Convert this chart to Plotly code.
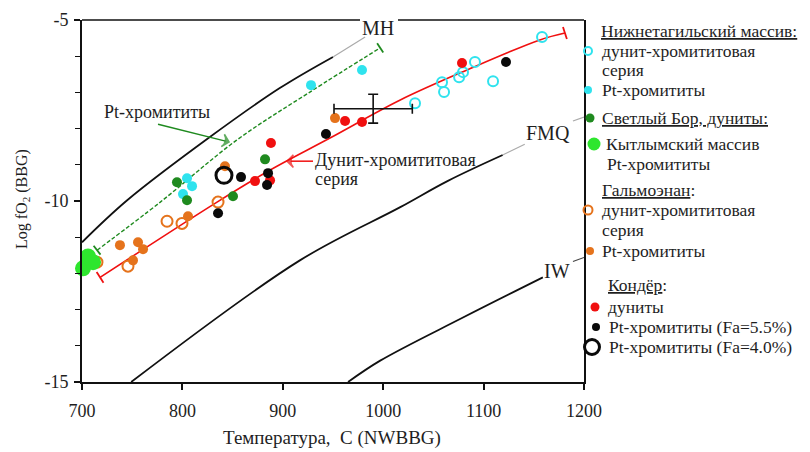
import plotly.graph_objects as go

W, H = 810, 452
FONT = "Liberation Serif"
TXT = "#1e1e1e"

# ---- buffer curves: temperature (C) vs log fO2 ----
mh_t = [700, 745, 827, 897, 950]
mh_f = [-11.14, -9.98, -8.24, -6.88, -6.02]
mh_ext_t = [950, 982]
mh_ext_f = [-6.02, -5.47]

fmq_t = [749, 917, 1017, 1064, 1119]
fmq_f = [-15.0, -11.64, -10.17, -9.45, -8.73]
fmq_ext_t = [1119, 1141]
fmq_ext_f = [-8.73, -8.43]
fmq_tail_t = [1189, 1200]
fmq_tail_f = [-7.79, -7.68]

iw_t = [965, 997, 1078, 1159]
iw_f = [-15.0, -14.41, -13.24, -12.11]
iw_tail_t = [1189, 1200]
iw_tail_f = [-11.67, -11.56]

# ---- trend lines ----
dun_t = [718, 834.5, 887, 947, 1017, 1083.5, 1156, 1181]
dun_f = [-12.11, -10.03, -9.15, -8.26, -7.21, -6.38, -5.55, -5.36]
ptc_t = [715, 778, 854, 927, 997]
ptc_f = [-11.36, -10.03, -8.32, -6.99, -5.77]

# ---- samples ----
ntag_dun_t = [1031.7, 1058.6, 1060.6, 1075.6, 1079.5, 1091.4, 1109.4, 1158.2]
ntag_dun_f = [-7.30, -6.72, -6.99, -6.58, -6.44, -6.16, -6.69, -5.47]
ntag_pt_t = [804.6, 809.6, 800.6, 928.1, 978.9]
ntag_pt_f = [-9.37, -9.59, -9.81, -6.80, -6.38]
svbor_t = [794.6, 804.6, 850.4, 882.3]
svbor_f = [-9.48, -9.98, -9.87, -8.85]
kytlym_t = [701, 706, 711]
kytlym_f = [-11.86, -11.53, -11.69]
galm_dun_t = [714.9, 745.8, 784.7, 799.6, 835.5]
galm_dun_f = [-11.69, -11.80, -10.56, -10.62, -10.03]
galm_pt_t = [737.8, 755.8, 760.8, 750.8, 805.6, 842.4, 952.0]
galm_pt_f = [-11.22, -11.14, -11.33, -11.64, -10.42, -9.04, -7.71]
kond_dun_t = [872.3, 887.3, 888.2, 962.0, 978.9, 1078.5]
kond_dun_f = [-9.45, -9.43, -8.40, -7.79, -7.82, -6.19]
kond_fa55_t = [858.4, 835.5, 885.3, 884.3, 943.0, 1122.3]
kond_fa55_f = [-9.34, -10.34, -9.23, -9.56, -8.15, -6.16]
kond_fa40_t = [841.4]
kond_fa40_f = [-9.29]

# mean with uncertainty
err_t, err_f = [990], [-7.45]
err_dt, err_df = [39], [0.4]

CYAN = "#2fe3ee"
DKGREEN = "#1f8a1f"
LTGREEN = "#2ee62e"
ORANGE = "#e5731c"
RED = "#f01010"

fig = go.Figure()


def line(x, y, color, width=1.6, dash=None, shape="spline"):
    fig.add_trace(go.Scatter(x=x, y=y, mode="lines", line=dict(color=color, width=width, dash=dash, shape=shape),
                             hoverinfo="skip", showlegend=False))


line(mh_t, mh_f, "#111111", 1.8)
line(mh_ext_t, mh_ext_f, "#aaaaaa", 1.2, shape="linear")
line(fmq_t, fmq_f, "#111111", 1.8)
line(fmq_ext_t, fmq_ext_f, "#aaaaaa", 1.2, shape="linear")
line(fmq_tail_t, fmq_tail_f, "#aaaaaa", 1.2, shape="linear")
line(iw_t, iw_f, "#111111", 1.8)
line(iw_tail_t, iw_tail_f, "#444444", 1.2, shape="linear")
line(dun_t, dun_f, RED, 1.6)
line(ptc_t, ptc_f, DKGREEN, 1.4, dash="4px,2px")

# end caps of trend lines
fig.add_trace(go.Scatter(x=[dun_t[0], dun_t[-1]], y=[dun_f[0], dun_f[-1]], mode="markers",
                         marker=dict(symbol="line-ns", size=9, angle=[-33, -18], line=dict(color=RED, width=1.8)),
                         hoverinfo="skip", showlegend=False, cliponaxis=False))
fig.add_trace(go.Scatter(x=[ptc_t[0], ptc_t[-1]], y=[ptc_f[0], ptc_f[-1]], mode="markers",
                         marker=dict(symbol="line-ns", size=8, angle=[-38, -33], line=dict(color=DKGREEN, width=1.8)),
                         hoverinfo="skip", showlegend=False, cliponaxis=False))


def pts(x, y, color, size=10, open_=False, lw=2, clip=True):
    if open_:
        m = dict(symbol="circle-open", size=size, color=color, line=dict(color=color, width=lw))
    else:
        m = dict(symbol="circle", size=size, color=color, line=dict(width=0))
    fig.add_trace(go.Scatter(x=x, y=y, mode="markers", marker=m, showlegend=False, cliponaxis=clip))


pts(galm_pt_t, galm_pt_f, ORANGE, 10)
pts(galm_dun_t, galm_dun_f, ORANGE, 11, open_=True, lw=2)
pts(ntag_pt_t, ntag_pt_f, CYAN, 10)
pts(ntag_dun_t, ntag_dun_f, CYAN, 10, open_=True, lw=2)
pts(svbor_t, svbor_f, DKGREEN, 10)
pts(kond_dun_t, kond_dun_f, RED, 10)
pts(kond_fa55_t, kond_fa55_f, "#0a0a0a", 10)
pts(kond_fa40_t, kond_fa40_f, "#0a0a0a", 16, open_=True, lw=3)
pts(kytlym_t, kytlym_f, LTGREEN, 16, clip=False)

fig.add_trace(go.Scatter(x=err_t, y=err_f, mode="markers", marker=dict(size=1, opacity=0),
                         error_x=dict(type="data", array=err_dt, color="#111111", thickness=1.6, width=5),
                         error_y=dict(type="data", array=err_df, color="#111111", thickness=1.6, width=5),
                         showlegend=False, hoverinfo="skip"))

# labelling arrows: shaft, head and a cross-bar at the tail
arrows = [
    dict(t=[775.7, 846.4], f=[-7.88, -8.37], color=DKGREEN),
    dict(t=[930.1, 904.2], f=[-8.90, -8.90], color=RED),
]
for a in arrows:
    fig.add_trace(go.Scatter(x=a["t"], y=a["f"], mode="lines+markers",
                             line=dict(color=a["color"], width=1.5),
                             marker=dict(symbol=["line-ns", "arrow-wide"], size=[9, 9], angleref="previous",
                                         color=a["color"], line=dict(color=a["color"], width=1.6)),
                             showlegend=False, hoverinfo="skip"))


def label(text, x, y, size=18, xanchor="left", xref="x", yref="y"):
    fig.add_annotation(x=x, y=y, xref=xref, yref=yref, text=text, showarrow=False, xanchor=xanchor,
                       yanchor="middle", borderpad=0, font=dict(family=FONT, size=size, color=TXT))


label("MH", 994.8, -5.22, size=20, xanchor="center")
label("FMQ", 1164, -8.13, size=20, xanchor="center")
label("IW", 1173, -11.92, size=20, xanchor="center")
label("Pt-хромититы", 720.5, -7.55)
label("Дунит-хромититовая", 931, -8.87)
label("серия", 931, -9.40)

# ---- legend, laid out on a pixel-scaled overlay axis ----
leg_marks = [
    (588, 51, CYAN, 8, True, 2),
    (588, 90, CYAN, 8, False, 0),
    (590, 118, DKGREEN, 9, False, 0),
    (594, 144, LTGREEN, 13, False, 0),
    (588, 210, ORANGE, 9, True, 2),
    (590, 251, ORANGE, 8, False, 0),
    (595, 307, RED, 9, False, 0),
    (596, 327, "#0a0a0a", 8, False, 0),
    (592, 347, "#0a0a0a", 15, True, 3),
]
for x, y, c, s, o, lw in leg_marks:
    m = dict(symbol="circle-open" if o else "circle", size=s, color=c, line=dict(color=c, width=lw))
    fig.add_trace(go.Scatter(x=[x], y=[y], mode="markers", marker=m, xaxis="x2", yaxis="y2",
                             showlegend=False, hoverinfo="skip", cliponaxis=False))

leg_text = [
    ("<u>Нижнетагильский массив:</u>", 600, 31),
    ("дунит-хромититовая", 601, 51),
    ("серия", 601, 70),
    ("Pt-хромититы", 601, 90),
    ("<u>Светлый Бор, дуниты:</u>", 601, 118),
    ("Кытлымский массив", 605, 144),
    ("Pt-хромититы", 606, 164),
    ("<u>Гальмоэнан</u>:", 601, 190),
    ("дунит-хромититовая", 601, 210),
    ("серия", 601, 230),
    ("Pt-хромититы", 601, 251),
    ("<u>Кондёр</u>:", 607, 285),
    ("дуниты", 607, 307),
    ("Pt-хромититы (Fa=5.5%)", 608, 327),
    ("Pt-хромититы (Fa=4.0%)", 608, 347),
]
for t, x, y in leg_text:
    label(t, x, y, size=17.5, xref="x2", yref="y2")

# axis titles
label("Температура,  C (NWBBG)", 332, 438, size=19, xanchor="center", xref="x2", yref="y2")
fig.add_annotation(x=22, y=199, xref="x2", yref="y2", text="Log fO<sub>2</sub> (BBG)", showarrow=False,
                   textangle=-90, font=dict(family=FONT, size=16, color=TXT))

# top frame, interrupted by the MH label
fig.add_shape(type="line", x0=82, x1=360, y0=20, y1=20, xref="x2", yref="y2", line=dict(color="#111111", width=1.6))
fig.add_shape(type="line", x0=398, x1=584, y0=20, y1=20, xref="x2", yref="y2", line=dict(color="#111111", width=1.6))

fig.update_layout(
    template="none",
    width=W, height=H,
    margin=dict(l=0, r=0, t=0, b=0, pad=0, autoexpand=False),
    paper_bgcolor="white", plot_bgcolor="rgba(0,0,0,0)",
    showlegend=False,
    xaxis=dict(domain=[82 / W, 584 / W], range=[700, 1200], tickvals=[700, 800, 900, 1000, 1100, 1200],
               showline=True, linecolor="#111111", linewidth=1.6, ticks="outside", ticklen=6, tickwidth=1.5,
               tickcolor="#111111", showgrid=False, zeroline=False, mirror=False, ticklabelstandoff=6,
               automargin=False, tickfont=dict(family=FONT, size=18, color=TXT)),
    yaxis=dict(domain=[(H - 382) / H, (H - 20) / H], range=[-15, -5], tickvals=[-5, -10, -15],
               ticktext=["-5", "-10", "-15"], showline=True, linecolor="#111111", linewidth=1.6,
               ticks="outside", ticklen=6, tickwidth=2, tickcolor="#111111", showgrid=False, zeroline=False,
               mirror=True, ticklabelstandoff=2, automargin=False, tickfont=dict(family=FONT, size=18, color=TXT),
               minor=dict(dtick=1, ticks="outside", ticklen=5, tickwidth=1.3, tickcolor="#111111", showgrid=False)),
    xaxis2=dict(domain=[0, 1], range=[0, W], visible=False, anchor="y2", fixedrange=True, automargin=False),
    yaxis2=dict(domain=[0, 1], range=[H, 0], visible=False, anchor="x2", fixedrange=True, automargin=False),
)

fig.write_html("out.html")
